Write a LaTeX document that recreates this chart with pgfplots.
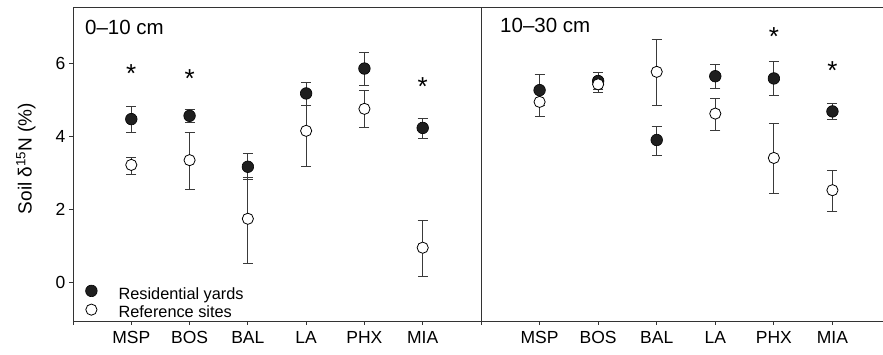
\documentclass[border=0pt]{standalone}
\usepackage{fontspec}
\setmainfont{Liberation Sans}
\usepackage{pgfplots}
\usepackage{pgfplotstable}
\pgfplotsset{compat=1.18}
\definecolor{frame}{HTML}{333333}
\definecolor{ebar}{HTML}{3A3A3A}

% x y ep em  (ep = upper error, em = lower error)
\pgfplotstableread{
x y ep em
1 4.47 0.34 0.37
2 4.56 0.16 0.19
3 3.17 0.35 0.36
4 5.17 0.30 0.34
5 5.85 0.44 0.47
6 4.23 0.26 0.28
}\lres
\pgfplotstableread{
x y ep em
1 3.22 0.21 0.26
2 3.35 0.75 0.81
3 1.75 1.13 1.23
4 4.15 0.68 0.98
5 4.75 0.49 0.52
6 0.96 0.74 0.79
}\lref
\pgfplotstableread{
x y ep em
1 5.26 0.42 0.42
2 5.51 0.24 0.24
3 3.90 0.36 0.41
4 5.64 0.31 0.34
5 5.58 0.46 0.47
6 4.68 0.22 0.23
}\rres
\pgfplotstableread{
x y ep em
1 4.94 0.38 0.40
2 5.42 0.20 0.21
3 5.76 0.88 0.91
4 4.62 0.41 0.46
5 3.41 0.93 0.96
6 2.53 0.54 0.59
}\rref

\pgfplotsset{
  panel/.style={
    scale only axis, height=314pt, ymin=-1.04, ymax=7.53, xmin=0,
    xtick={0,...,6}, xticklabels={,MSP,BOS,BAL,LA,PHX,MIA},
    xtick pos=bottom, tick align=outside, major tick length=4pt,
    axis line style={frame, line width=0.9pt},
    tick style={frame, line width=0.9pt},
    ticklabel style={font=\fontsize{17.5}{20}\selectfont},
    xticklabel style={yshift=-3pt},
    /pgf/number format/assume math mode=true,
    clip=false,
  },
  res/.style={only marks, mark=*, mark size=5.8pt,
    mark options={fill=black!88, draw=black, line width=0.6pt},
    error bars/.cd, y dir=both, y explicit,
    error bar style={ebar, line width=0.9pt},
    error mark options={ebar, line width=0.9pt, mark size=5pt, rotate=90}},
  ref/.style={only marks, mark=*, mark size=5.6pt,
    mark options={fill=white, draw=black, line width=0.8pt},
    error bars/.cd, y dir=both, y explicit,
    error bar style={ebar, line width=0.9pt},
    error mark options={ebar, line width=0.9pt, mark size=5pt, rotate=90}},
}

\begin{document}
\begin{tikzpicture}
\useasboundingbox (0pt,0pt) rectangle (883pt,355pt);
\begin{axis}[panel, at={(73pt,34pt)}, anchor=south west, width=408pt, xmax=7,
  ytick={0,2,4,6}, ytick pos=left,
  ylabel={Soil δ\textsuperscript{15}N (\%)},
  every axis y label/.style={at={(rel axis cs:-0.1152,0.5175)}, rotate=90, anchor=center,
    font=\fontsize{19}{22}\selectfont},
  legend style={draw=none, fill=none, at={(rel axis cs:0,0)}, anchor=south west,
    xshift=12pt, yshift=1.5pt, inner sep=0pt, row sep=3.5pt,
    font=\fontsize{16.3}{18}\selectfont,
    nodes={inner ysep=0pt}},
  legend cell align=left,
  legend image code/.code={\path (-6pt,0pt) (25pt,0pt); \draw[#1] plot coordinates {(0pt,0.3em)};},
]
\addplot[res] table[x=x, y=y, y error plus=ep, y error minus=em] {\lres};
\addlegendentry{Residential yards}
\addplot[ref] table[x=x, y=y, y error plus=ep, y error minus=em] {\lref};
\addlegendentry{Reference sites}
\node[anchor=north west, inner sep=0pt, font=\fontsize{20.5}{24}\selectfont]
  at ([xshift=12pt,yshift=-13pt]rel axis cs:0,1) {0–10 cm};
\node[anchor=north, inner sep=0pt, font=\fontsize{26}{26}\selectfont] at ([yshift=4.5pt]axis cs:1,5.84) {*};
\node[anchor=north, inner sep=0pt, font=\fontsize{26}{26}\selectfont] at ([yshift=4.5pt]axis cs:2,5.70) {*};
\node[anchor=north, inner sep=0pt, font=\fontsize{26}{26}\selectfont] at ([yshift=4.5pt]axis cs:6,5.49) {*};
\end{axis}
\begin{axis}[panel, at={(481pt,34pt)}, anchor=south west, width=410pt, xmax=7,
  ytick=\empty]
\addplot[res] table[x=x, y=y, y error plus=ep, y error minus=em] {\rres};
\addplot[ref] table[x=x, y=y, y error plus=ep, y error minus=em] {\rref};
\node[anchor=north west, inner sep=0pt, font=\fontsize{20.5}{24}\selectfont]
  at ([xshift=19pt,yshift=-11pt]rel axis cs:0,1) {10–30 cm};
\node[anchor=north, inner sep=0pt, font=\fontsize{26}{26}\selectfont] at ([yshift=4.5pt]axis cs:5,6.84) {*};
\node[anchor=north, inner sep=0pt, font=\fontsize{26}{26}\selectfont] at ([yshift=4.5pt]axis cs:6,5.92) {*};
\end{axis}
\end{tikzpicture}
\end{document}
